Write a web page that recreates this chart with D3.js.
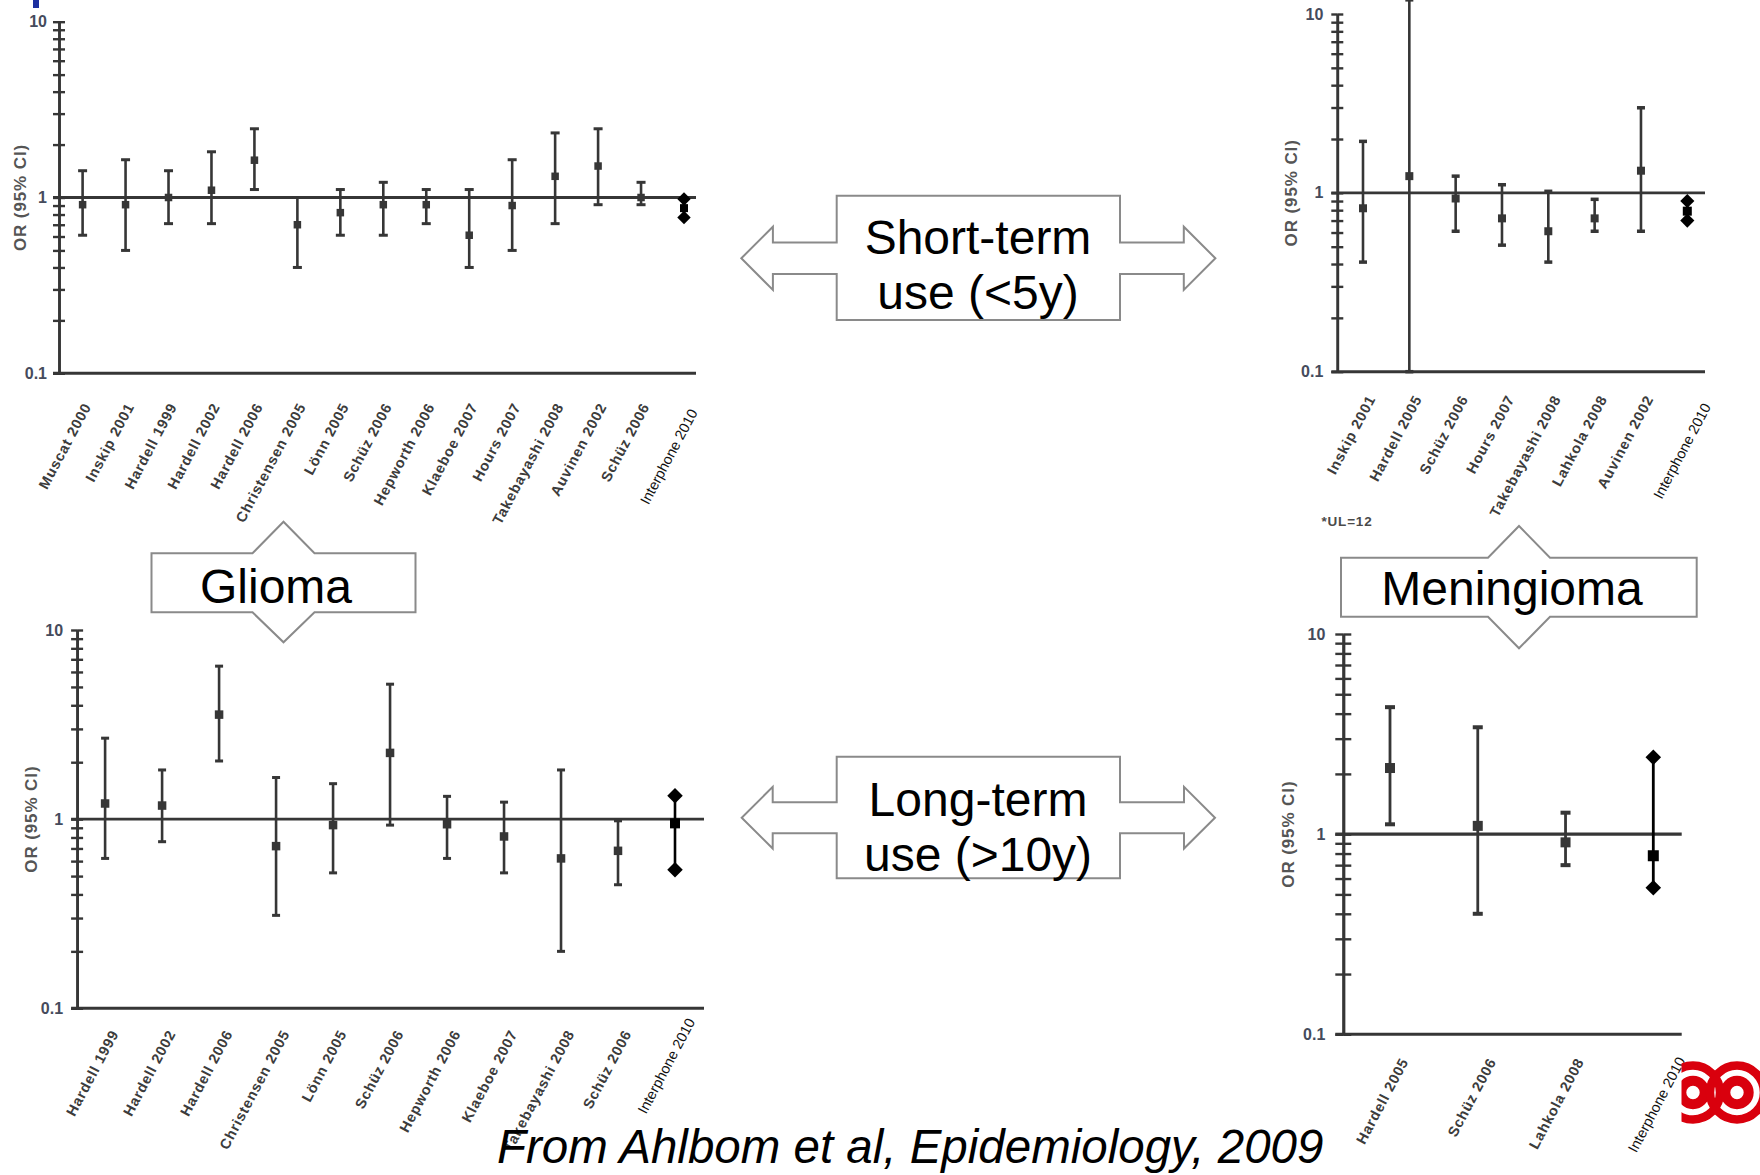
<!DOCTYPE html>
<html>
<head>
<meta charset="utf-8">
<script src="https://cdn.jsdelivr.net/npm/d3@7"></script>
<style>
  html, body { margin: 0; padding: 0; background: #fff; }
  svg { display: block; font-family: Arial, "Liberation Sans", sans-serif; }
  .axis path, .axis line { stroke: #363636; }
  .tick-lab { font-weight: bold; font-size: 16px; fill: #454b5c; }
  .y-title { font-weight: bold; font-size: 17px; fill: #555; letter-spacing: 0.9px; }
  .study-lab { font-weight: bold; font-size: 14.5px; fill: #3c3c3c; letter-spacing: 0.8px; }
  .inter-lab { font-size: 14.5px; fill: #111; }
  .big { font-size: 48px; fill: #000; }
</style>
</head>
<body>
<svg id="chart" width="1760" height="1175"></svg>
<script>
// ---- data: odds ratios with 95% CI ----
const gliomaShortStudies = ["Muscat 2000", "Inskip 2001", "Hardell 1999", "Hardell 2002", "Hardell 2006",
  "Christensen 2005", "Lönn 2005", "Schüz 2006", "Hepworth 2006", "Klaeboe 2007", "Hours 2007",
  "Takebayashi 2008", "Auvinen 2002", "Schüz 2006"];
const gliomaShortOR   = [0.91, 0.91, 1.00, 1.10, 1.63, 0.70, 0.82, 0.91, 0.91, 0.61, 0.90, 1.32, 1.51, 1.00];
const gliomaShortLow  = [0.61, 0.50, 0.71, 0.71, 1.11, 0.40, 0.61, 0.61, 0.71, 0.40, 0.50, 0.71, 0.91, 0.91];
const gliomaShortHigh = [1.42, 1.64, 1.42, 1.82, 2.46, 1.00, 1.11, 1.22, 1.11, 1.11, 1.64, 2.33, 2.46, 1.22];
const gliomaShortInterphone = [0.87, 0.77, 0.98]; // OR, low, high

const meningShortStudies = ["Inskip 2001", "Hardell 2005", "Schüz 2006", "Hours 2007",
  "Takebayashi 2008", "Lahkola 2008", "Auvinen 2002"];
const meningShortOR   = [0.82, 1.24, 0.93, 0.72, 0.61, 0.72, 1.33];
const meningShortLow  = [0.41, 0.10, 0.61, 0.51, 0.41, 0.61, 0.61];
const meningShortHigh = [1.94, 12.0, 1.24, 1.11, 1.02, 0.92, 2.99];
const meningShortInterphone = [0.79, 0.70, 0.90];

const gliomaLongStudies = ["Hardell 1999", "Hardell 2002", "Hardell 2006", "Christensen 2005", "Lönn 2005",
  "Schüz 2006", "Hepworth 2006", "Klaeboe 2007", "Takebayashi 2008", "Schüz 2006"];
const gliomaLongOR   = [1.21, 1.18, 3.57, 0.72, 0.93, 2.24, 0.94, 0.81, 0.62, 0.68];
const gliomaLongLow  = [0.62, 0.76, 2.03, 0.31, 0.52, 0.93, 0.62, 0.52, 0.20, 0.45];
const gliomaLongHigh = [2.68, 1.82, 6.44, 1.66, 1.54, 5.17, 1.32, 1.23, 1.82, 0.98];
const gliomaLongInterphone = [0.95, 0.54, 1.33];

const meningLongStudies = ["Hardell 2005", "Schüz 2006", "Lahkola 2008"];
const meningLongOR   = [2.14, 1.10, 0.91];
const meningLongLow  = [1.12, 0.40, 0.70];
const meningLongHigh = [4.31, 3.42, 1.28];
const meningLongInterphone = [0.78, 0.54, 2.42];

const yMajorTicks = [0.1, 1, 10];
const yMajorLabels = ["0.1", "1", "10"];
const yMinorTicks = [0.2, 0.3, 0.4, 0.5, 0.6, 0.7, 0.8, 0.9, 2, 3, 4, 5, 6, 7, 8, 9];
const interphoneLabel = "Interphone 2010";
const yTitle = "OR (95% CI)";

// ---- layout ----
const panels = [
  { studies: gliomaShortStudies, or: gliomaShortOR, lo: gliomaShortLow, hi: gliomaShortHigh, inter: gliomaShortInterphone,
    axisX: 59, top: 21.7, bottom: 373.3, right: 696, first: 82.6, last: 684,
    tick: 6, cap: 9, capH: 3, mark: 7.5, dia: 9.5, sq: 8, lw: 2.6,
    tickPad: 12, titleX: 20, labDx: 9, labDy: 33, intDx: 14, intDy: 39 },
  { studies: meningShortStudies, or: meningShortOR, lo: meningShortLow, hi: meningShortHigh, inter: meningShortInterphone,
    axisX: 1337.3, top: 14, bottom: 371.7, right: 1705, first: 1363, last: 1687.3,
    tick: 6, cap: 8, capH: 3.5, mark: 8, dia: 10, sq: 9, lw: 2.6,
    tickPad: 14, titleX: 1291, labDx: 13, labDy: 27, intDx: 24, intDy: 35 },
  { studies: gliomaLongStudies, or: gliomaLongOR, lo: gliomaLongLow, hi: gliomaLongHigh, inter: gliomaLongInterphone,
    axisX: 77.1, top: 630, bottom: 1008.3, right: 704, first: 105.1, last: 675,
    tick: 6, cap: 8, capH: 3, mark: 8.5, dia: 11, sq: 10, lw: 2.6,
    tickPad: 14, titleX: 31, labDx: 14, labDy: 25, intDx: 20.6, intDy: 13.3 },
  { studies: meningLongStudies, or: meningLongOR, lo: meningLongLow, hi: meningLongHigh, inter: meningLongInterphone,
    axisX: 1343.3, top: 634, bottom: 1034.3, right: 1681.7, first: 1390, last: 1653.3,
    tick: 8, cap: 10, capH: 4, mark: 10, dia: 11, sq: 11, lw: 2.8,
    tickPad: 18, titleX: 1288, labDx: 19, labDy: 27, intDx: 32.6, intDy: 26 }
];

const svg = d3.select("#chart");
const ink = "#363636";

panels.forEach(p => {
  const g = svg.append("g");
  const n = p.studies.length;
  const y = d3.scaleLog().domain([0.1, 10]).range([p.bottom, p.top]);
  const x = d3.scalePoint().domain(d3.range(n + 1)).range([p.first, p.last]);
  const allTicks = yMajorTicks.concat(yMinorTicks);

  // y axis, ticks crossing both sides
  [d3.axisLeft(y), d3.axisRight(y)].forEach(ax => {
    g.append("g")
      .attr("class", "axis")
      .attr("transform", `translate(${p.axisX},0)`)
      .call(ax.tickValues(allTicks).tickSize(p.tick).tickSizeOuter(0).tickFormat(""))
      .call(s => s.selectAll("path").attr("stroke-width", p.lw))
      .call(s => s.selectAll("line").attr("stroke-width", 2.4));
  });

  g.selectAll(".tick-lab")
    .data(yMajorTicks)
    .join("text")
    .attr("class", "tick-lab")
    .attr("x", p.axisX - p.tickPad)
    .attr("y", d => y(d))
    .attr("text-anchor", "end")
    .attr("dominant-baseline", "central")
    .text((d, i) => yMajorLabels[i]);

  g.append("text")
    .attr("class", "y-title")
    .attr("transform", `translate(${p.titleX},${y(1)}) rotate(-90)`)
    .attr("text-anchor", "middle")
    .attr("dominant-baseline", "central")
    .text(yTitle);

  // x axis at 0.1 and reference line at OR = 1
  [0.1, 1].forEach(v => {
    g.append("line")
      .attr("x1", p.axisX - p.tick).attr("x2", p.right)
      .attr("y1", y(v)).attr("y2", y(v))
      .attr("stroke", ink).attr("stroke-width", p.lw + 0.3);
  });

  // study whiskers
  const rows = p.studies.map((s, i) => ({ i, s, or: p.or[i], lo: p.lo[i], hi: p.hi[i] }));
  const st = g.selectAll(".study").data(rows).join("g").attr("class", "study");
  st.append("line")
    .attr("x1", d => x(d.i)).attr("x2", d => x(d.i))
    .attr("y1", d => y(d.lo)).attr("y2", d => y(d.hi))
    .attr("stroke", ink).attr("stroke-width", p.lw);
  ["lo", "hi"].forEach(k => {
    st.append("rect")
      .attr("x", d => x(d.i) - p.cap / 2).attr("width", p.cap)
      .attr("y", d => y(d[k]) - p.capH / 2).attr("height", p.capH)
      .attr("fill", ink);
  });
  st.append("rect")
    .attr("x", d => x(d.i) - p.mark / 2).attr("width", p.mark)
    .attr("y", d => y(d.or) - p.mark / 2).attr("height", p.mark)
    .attr("fill", ink);

  // study labels
  st.append("text")
    .attr("class", "study-lab")
    .attr("text-anchor", "end")
    .attr("transform", d => `translate(${x(d.i) + p.labDx},${p.bottom + p.labDy}) rotate(-62)`)
    .text(d => d.s);

  // Interphone 2010 pooled estimate
  const xi = x(n);
  const [iOR, iLo, iHi] = p.inter;
  g.append("line")
    .attr("x1", xi).attr("x2", xi).attr("y1", y(iLo)).attr("y2", y(iHi))
    .attr("stroke", "#000").attr("stroke-width", p.lw);
  const diamond = d3.symbol(d3.symbolSquare, p.dia * p.dia);
  [iLo, iHi].forEach(v => {
    g.append("path")
      .attr("d", diamond())
      .attr("transform", `translate(${xi},${y(v)}) rotate(45)`)
      .attr("fill", "#000");
  });
  g.append("rect")
    .attr("x", xi - p.sq / 2).attr("width", p.sq)
    .attr("y", y(iOR) - p.sq / 2).attr("height", p.sq)
    .attr("fill", "#000");
  g.append("text")
    .attr("class", "inter-lab")
    .attr("text-anchor", "end")
    .attr("transform", `translate(${xi + p.intDx},${p.bottom + p.intDy}) rotate(-62)`)
    .text(interphoneLabel);
});

// footnote for the clipped upper limit
svg.append("text")
  .attr("x", 1347).attr("y", 526)
  .attr("text-anchor", "middle")
  .style("font-weight", "bold").style("font-size", "13.5px").style("letter-spacing", "0.8px")
  .attr("fill", "#4a4a4a")
  .text("*UL=12");

// ---- callout arrows ----
const arrowStroke = "#8a8a8a";

function hArrow(b, mid, shaft, head, gap, len) {
  const pts = [
    [b.x0, b.y0], [b.x1, b.y0], [b.x1, mid - shaft], [b.x1 + gap, mid - shaft], [b.x1 + gap, mid - head],
    [b.x1 + gap + len, mid], [b.x1 + gap, mid + head], [b.x1 + gap, mid + shaft], [b.x1, mid + shaft],
    [b.x1, b.y1], [b.x0, b.y1], [b.x0, mid + shaft], [b.x0 - gap, mid + shaft], [b.x0 - gap, mid + head],
    [b.x0 - gap - len, mid], [b.x0 - gap, mid - head], [b.x0 - gap, mid - shaft], [b.x0, mid - shaft]
  ];
  svg.append("path")
    .attr("d", d3.line()(pts) + "Z")
    .attr("fill", "#fff").attr("stroke", arrowStroke).attr("stroke-width", 2);
}

function vArrow(b, cx, head, lenUp, lenDown) {
  const pts = [
    [b.x0, b.y0], [cx - head, b.y0], [cx, b.y0 - lenUp], [cx + head, b.y0], [b.x1, b.y0],
    [b.x1, b.y1], [cx + head, b.y1], [cx, b.y1 + lenDown], [cx - head, b.y1], [b.x0, b.y1]
  ];
  svg.append("path")
    .attr("d", d3.line()(pts) + "Z")
    .attr("fill", "#fff").attr("stroke", arrowStroke).attr("stroke-width", 2);
}

function bigText(str, x, y) {
  svg.append("text").attr("class", "big")
    .attr("x", x).attr("y", y).attr("text-anchor", "middle").text(str);
}

hArrow({ x0: 836.7, x1: 1120, y0: 195.7, y1: 320 }, 258.3, 15.8, 31.6, 63.8, 31.6);
bigText("Short-term", 978, 254);
bigText("use (<5y)", 978, 309);

hArrow({ x0: 836.7, x1: 1120, y0: 756.7, y1: 878.3 }, 817.7, 15.5, 30.8, 64, 31);
bigText("Long-term", 978, 815.5);
bigText("use (>10y)", 978, 871);

vArrow({ x0: 151.5, x1: 415.5, y0: 553.3, y1: 612.3 }, 283.5, 31, 31.6, 30);
bigText("Glioma", 276, 603);

vArrow({ x0: 1341, x1: 1696.7, y0: 557.7, y1: 616.7 }, 1519, 31, 31.7, 31.6);
bigText("Meningioma", 1512, 605);

// source line
svg.append("text")
  .attr("x", 497).attr("y", 1163)
  .style("font-size", "47.5px").style("font-style", "italic")
  .attr("fill", "#000")
  .text("From Ahlbom et al, Epidemiology, 2009");

// fragment of a title at the top-left edge
svg.append("rect").attr("x", 33).attr("y", 0).attr("width", 6).attr("height", 8).attr("fill", "#1c2fa0");

// logo, bottom right
svg.append("clipPath").attr("id", "logoClip")
  .append("rect").attr("x", 1681.5).attr("y", 1061).attr("width", 79).attr("height", 63);
const logo = svg.append("g").attr("clip-path", "url(#logoClip)");
[1693, 1737].forEach(cx => {
  logo.append("circle").attr("cx", cx).attr("cy", 1092.5).attr("r", 27)
    .attr("fill", "none").attr("stroke", "#d9000d").attr("stroke-width", 8.5);
  logo.append("circle").attr("cx", cx).attr("cy", 1092.5).attr("r", 11.7)
    .attr("fill", "none").attr("stroke", "#d9000d").attr("stroke-width", 10);
});
</script>
</body>
</html>
